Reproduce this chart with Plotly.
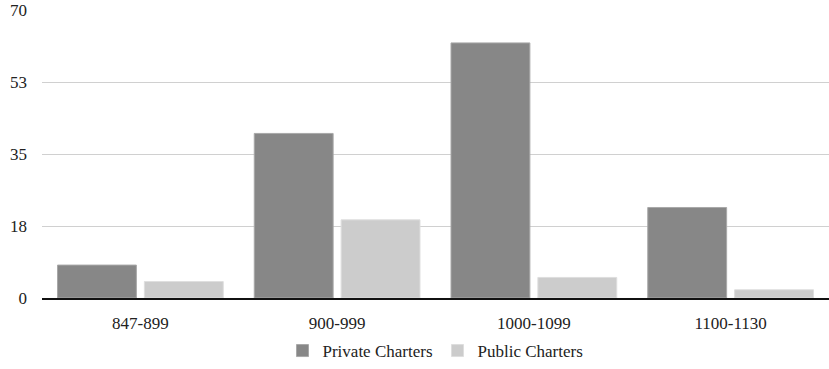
import plotly.graph_objects as go

categories = ["847-899", "900-999", "1000-1099", "1100-1130"]
private_charters = [8, 40, 62, 22]
public_charters = [4, 19, 5, 2]
tick_vals = [0, 17.5, 35, 52.5, 70]
tick_text = ["0", "18", "35", "53", "70"]

font_family = "Liberation Serif, DejaVu Serif, serif"

fig = go.Figure()
fig.add_trace(go.Bar(name="Private Charters", x=categories, y=private_charters,
                     marker=dict(color="#878787", line=dict(color="#a8a8a8", width=1))))
fig.add_trace(go.Bar(name="Public Charters", x=categories, y=public_charters,
                     marker=dict(color="#cccccc", line=dict(color="#dedede", width=1))))

fig.update_layout(
    width=829, height=369,
    margin=dict(l=42, r=0, t=10, b=70),
    paper_bgcolor="white", plot_bgcolor="white",
    barmode="group", bargap=0.117, bargroupgap=0.092,
    font=dict(family=font_family, size=17, color="#222222"),
    showlegend=True,
    legend=dict(orientation="h", x=0.5, xanchor="center", y=-0.185, yanchor="middle",
                font=dict(size=17, color="#222222"), itemwidth=30),
    xaxis=dict(showgrid=False, showline=True, linecolor="#111111", linewidth=2,
               ticks="", ticklabelstandoff=9, tickfont=dict(size=17), automargin=False),
    yaxis=dict(range=[0, 70], tickvals=tick_vals, ticktext=tick_text,
               showgrid=True, gridcolor="#d0d0d0", gridwidth=1,
               zeroline=False, showline=False, ticks="", ticklabelstandoff=14,
               tickfont=dict(size=17), automargin=False),
)
fig.write_html("out.html")
